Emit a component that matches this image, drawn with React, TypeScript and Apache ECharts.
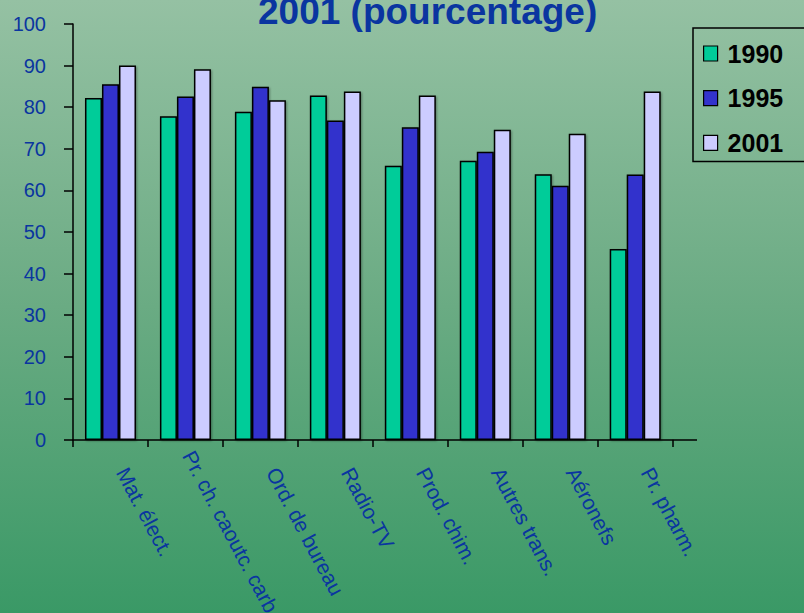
import React, { useEffect, useRef } from "react";
import * as echarts from "echarts";

const categories = [
  "Mat. élect.",
  "Pr. ch. caoutc. carb",
  "Ord. de bureau",
  "Radio-TV",
  "Prod. chim.",
  "Autres trans.",
  "Aéronefs",
  "Pr. pharm.",
];
const seriesNames = ["1990", "1995", "2001"];
const values1990 = [82.2, 77.8, 78.9, 82.8, 65.9, 67.1, 63.9, 45.9];
const values1995 = [85.5, 82.6, 84.9, 76.8, 75.2, 69.3, 61.1, 63.8];
const values2001 = [90.0, 89.1, 81.7, 83.8, 82.8, 74.6, 73.6, 83.8];
const yMin = 0;
const yMax = 100;
const yInterval = 10;
const titleText = "2001 (pourcentage)";

const colors = ["#00CC99", "#3333CC", "#CCCCFF"];
const FONT = "'Liberation Sans', Arial, Helvetica, sans-serif";
const BLUE_TEXT = "#0A35A0";

export default function App() {
  const ref = useRef<HTMLDivElement>(null);
  useEffect(() => {
    if (!ref.current) return;
    const chart = echarts.init(ref.current, undefined, { renderer: "svg" });
    const allValues = [values1990, values1995, values2001];
    const barStyle = (c: string) => ({
      color: c,
      borderColor: "#000",
      borderWidth: 1.5,
      shadowColor: "rgba(0,0,0,0.35)",
      shadowBlur: 2,
      shadowOffsetX: 1,
      shadowOffsetY: 1,
    });
    const categoryData = categories.map((c, i) =>
      i === 1
        ? { value: c, textStyle: { padding: [0, 0, 33, 6] } }
        : { value: c }
    );
    chart.setOption({
      animation: false,
      backgroundColor: new echarts.graphic.LinearGradient(0, 0, 0, 1, [
        { offset: 0, color: "#95C1A3" },
        { offset: 0.5, color: "#6AAB83" },
        { offset: 1, color: "#3A9966" },
      ]),
      title: {
        text: titleText,
        left: 258,
        top: -7,
        padding: 0,
        textStyle: {
          fontFamily: FONT,
          fontSize: 37,
          fontWeight: "bold",
          color: BLUE_TEXT,
        },
      },
      legend: {
        orient: "vertical",
        left: 693,
        top: 28,
        padding: [13, 40, 6, 10],
        itemGap: 19.7,
        itemWidth: 14,
        itemHeight: 15,
        icon: "rect",
        borderColor: "#000",
        borderWidth: 1.5,
        data: seriesNames,
        itemStyle: { borderColor: "#000", borderWidth: 1.2, shadowBlur: 0, shadowOffsetX: 0, shadowOffsetY: 0 },
        textStyle: {
          fontFamily: FONT,
          fontSize: 25,
          lineHeight: 25,
          fontWeight: "bold",
          color: "#000",
          padding: [0, 0, 0, 5],
        },
      },
      grid: {
        left: 73,
        top: 24,
        width: 599.7,
        height: 416,
        containLabel: false,
        outerBoundsMode: "none",
      },
      xAxis: {
        type: "category",
        data: categoryData,
        boundaryGap: true,
        axisLine: { show: true, lineStyle: { color: "#000", width: 1.5 } },
        axisTick: { show: true, length: 7, inside: false, lineStyle: { color: "#000", width: 1.5 } },
        axisLabel: {
          interval: 0,
          rotate: -62,
          margin: 7,
          padding: [0, 0, 14, 25],
          fontFamily: FONT,
          fontSize: 21,
          color: BLUE_TEXT,
        },
        splitLine: { show: false },
      },
      yAxis: {
        type: "value",
        min: yMin,
        max: yMax,
        interval: yInterval,
        axisLine: { show: true, lineStyle: { color: "#000", width: 1.5 } },
        axisTick: { show: true, length: 9, inside: false, lineStyle: { color: "#000", width: 1.5 } },
        axisLabel: {
          margin: 27,
          fontFamily: FONT,
          fontSize: 20,
          color: BLUE_TEXT,
          padding: [0, 0, 6, 0],
        },
        splitLine: { show: false },
      },
      graphic: [
        {
          type: "line",
          shape: { x1: 672.7, y1: 440, x2: 697, y2: 440 },
          style: { stroke: "#000", lineWidth: 1.5 },
        },
      ],
      series: seriesNames.map((name, i) => ({
        name,
        type: "bar",
        data: allValues[i],
        barWidth: 17,
        barGap: "0%",
        itemStyle: barStyle(colors[i]),
      })),
    });
    return () => chart.dispose();
  }, []);
  return (
    <div
      ref={ref}
      style={{ position: "fixed", left: 0, top: 0, width: 804, height: 613 }}
    />
  );
}
